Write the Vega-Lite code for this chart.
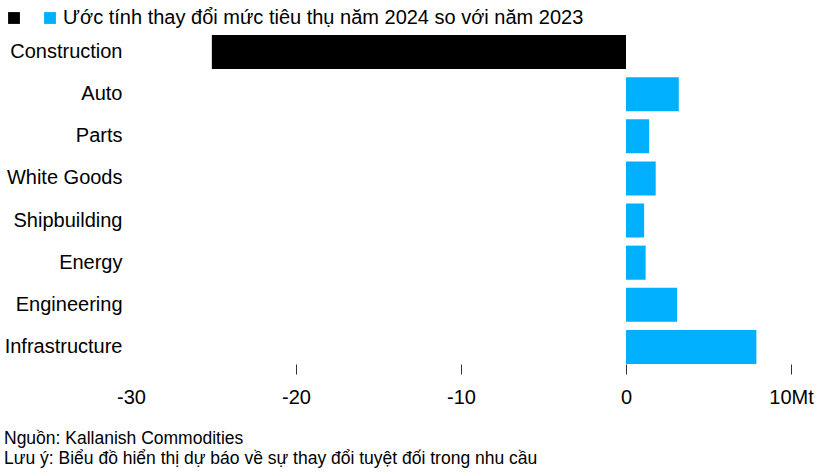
{
  "$schema": "https://vega.github.io/schema/vega-lite/v6.json",
  "autosize": "none",
  "width": 660,
  "height": 329,
  "padding": {"left": 131, "top": 35, "right": 32, "bottom": 109},
  "background": "white",
  "config": {
    "font": "Liberation Sans",
    "view": {"stroke": null}
  },
  "data": {
    "values": [
      {"sector": "Construction", "value": -25.1, "sign": "neg"},
      {"sector": "Auto", "value": 3.2, "sign": "pos"},
      {"sector": "Parts", "value": 1.4, "sign": "pos"},
      {"sector": "White Goods", "value": 1.8, "sign": "pos"},
      {"sector": "Shipbuilding", "value": 1.1, "sign": "pos"},
      {"sector": "Energy", "value": 1.19, "sign": "pos"},
      {"sector": "Engineering", "value": 3.1, "sign": "pos"},
      {"sector": "Infrastructure", "value": 7.9, "sign": "pos"}
    ]
  },
  "title": {
    "text": ["Nguồn: Kallanish Commodities", "Lưu ý: Biểu đồ hiển thị dự báo về sự thay đổi tuyệt đối trong nhu cầu"],
    "orient": "bottom",
    "anchor": "start",
    "frame": "bounds",
    "fontSize": 17.5,
    "fontWeight": "normal",
    "color": "#000000",
    "lineHeight": 20,
    "offset": 23,
    "font": "Liberation Sans"
  },
  "mark": {"type": "bar"},
  "encoding": {
    "y": {
      "field": "sector",
      "type": "nominal",
      "sort": null,
      "scale": {"paddingInner": 0.19, "paddingOuter": 0},
      "axis": {
        "title": null,
        "ticks": false,
        "domain": false,
        "labelFontSize": 20,
        "labelColor": "#000000",
        "labelPadding": 9,
        "labelLimit": 300
      }
    },
    "x": {
      "field": "value",
      "type": "quantitative",
      "scale": {"domain": [-30, 10], "nice": false, "zero": false},
      "axis": {
        "title": null,
        "values": [-30, -20, -10, 0, 10],
        "grid": false,
        "domain": false,
        "tickSize": 10,
        "tickColor": "#333333",
        "tickOpacity": {"condition": {"test": "datum.value == -30", "value": 0}, "value": 1},
        "labelFontSize": 20,
        "labelColor": "#000000",
        "labelPadding": 13,
        "labelFlush": false,
        "labelExpr": "datum.value == 10 ? '10Mt' : '' + datum.value"
      }
    },
    "color": {
      "field": "sign",
      "type": "nominal",
      "scale": {"domain": ["neg", "pos"], "range": ["#000000", "#00B0FF"]},
      "legend": {
        "title": null,
        "orient": "none",
        "legendX": -127,
        "legendY": -27,
        "direction": "horizontal",
        "symbolType": "square",
        "symbolSize": 140,
        "symbolStrokeWidth": 0,
        "symbolOpacity": 1,
        "labelFontSize": 20,
        "labelColor": "#000000",
        "labelOffset": 3,
        "labelLimit": 700,
        "columnPadding": 13,
        "labelExpr": "datum.value == 'neg' ? '' : 'Ước tính thay đổi mức tiêu thụ năm 2024 so với năm 2023'"
      }
    }
  }
}
